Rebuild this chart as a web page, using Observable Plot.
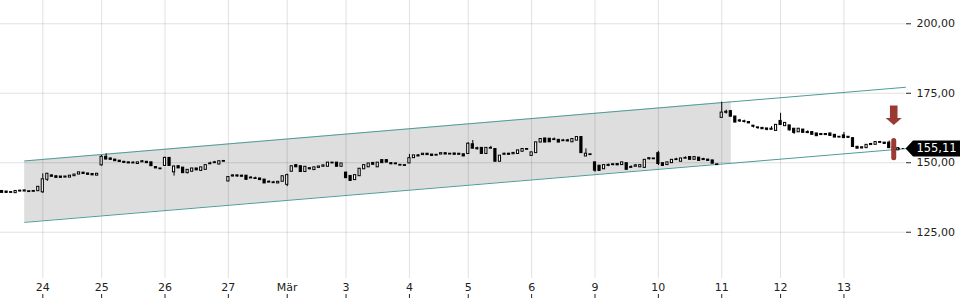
<!DOCTYPE html>
<html><head><meta charset="utf-8">
<script src="https://cdn.jsdelivr.net/npm/d3@7"></script>
<script src="https://cdn.jsdelivr.net/npm/@observablehq/plot@0.6"></script>
<style>
html,body{margin:0;padding:0;background:#fff;}
#chart svg{display:block;overflow:visible;}
</style></head><body><div id="chart"></div>
<script>
// Intraday candles (bar index = position in array)
const opens = [139.7,139.5,139.3,139.2,139.8,139.8,139.6,139.7,139.9,
139.5,144.0,145.3,145.0,144.9,144.8,144.8,145.3,145.9,146.3,146.0,145.8,145.5,
149.2,152.0,151.4,151.0,150.6,150.2,150.0,149.9,149.7,150.3,150.2,150.0,148.3,147.8,
149.0,151.6,146.7,148.6,148.1,146.4,146.9,147.8,147.2,147.6,149.6,150.0,149.5,150.5,
143.4,145.2,145.3,145.2,145.2,144.5,144.3,144.2,143.8,143.0,142.8,142.7,143.3,
142.2,146.9,149.0,148.6,146.8,147.8,147.5,148.3,148.7,148.7,149.9,149.9,148.7,
146.3,145.1,143.9,145.3,147.8,148.5,149.8,148.5,150.8,150.8,149.7,149.6,149.1,149.0,
149.9,151.8,152.5,152.9,153.1,152.8,152.7,153.1,153.3,153.1,153.2,153.0,152.9,
153.3,156.5,155.0,155.2,153.3,155.2,154.8,150.5,153.0,153.1,153.2,153.3,154.1,154.8,
152.6,153.6,157.4,158.6,158.5,158.3,158.1,157.9,157.9,157.5,158.1,159.1,152.4,152.9,
150.0,148.8,147.8,149.0,149.3,149.4,149.3,149.7,148.3,148.7,148.5,148.3,151.4,151.4,
153.3,149.7,149.3,150.0,151.1,150.5,151.6,151.9,151.2,151.7,151.2,151.0,150.7,149.3,
166.3,168.1,168.4,166.5,165.0,164.8,164.5,163.2,162.6,162.4,162.2,162.0,161.6,
164.9,163.3,163.3,162.1,161.1,161.8,160.9,160.9,160.4,160.2,160.1,160.4,159.9,159.2,
159.7,159.2,158.7,155.6,155.3,155.4,156.5,156.6,157.3,157.1,157.1,155.6,154.6];
const closes = [139.3,139.3,139.3,139.7,139.8,139.9,139.6,139.7,141.2,
143.9,145.9,145.1,144.7,144.7,144.9,145.2,145.6,146.4,146.1,145.8,145.6,145.9,
152.0,151.3,151.2,150.7,150.4,150.1,149.9,149.9,150.0,150.4,150.0,148.9,148.1,147.8,
151.6,149.0,148.5,148.1,146.4,147.3,147.8,147.4,148.2,149.0,149.6,150.0,150.4,150.5,
144.7,145.3,145.2,145.1,144.0,144.5,144.3,143.9,142.7,143.0,142.8,143.0,145.0,
145.4,148.6,148.5,146.8,148.4,147.9,148.2,148.5,148.9,149.9,149.9,148.7,149.6,
144.6,143.6,145.4,147.7,149.0,149.6,149.4,149.9,150.0,150.2,149.6,149.6,149.1,149.0,
151.5,152.5,152.4,153.1,152.9,152.6,152.7,153.3,153.1,153.1,153.0,153.1,152.4,
156.7,155.2,155.1,153.3,155.2,155.2,150.5,152.4,153.1,153.0,153.4,154.3,154.8,154.8,
153.6,157.2,158.4,157.4,157.5,158.3,157.4,157.9,157.8,158.4,159.1,153.6,153.1,152.9,
147.3,147.2,149.0,149.1,149.3,149.2,150.0,147.6,148.3,148.9,149.0,150.9,151.5,151.4,
149.7,149.0,150.0,150.9,151.1,151.4,151.6,151.2,151.9,150.8,151.1,150.8,149.8,149.3,
167.9,168.2,166.7,164.6,165.1,164.8,164.3,163.1,162.6,162.2,162.0,162.1,163.5,
163.7,164.2,161.8,160.9,162.1,160.9,160.8,160.2,159.7,160.1,160.2,159.8,159.2,159.2,
159.0,159.1,155.8,155.2,155.4,156.3,156.6,157.3,157.3,156.9,155.4,154.7,155.11];
const highs = [139.8,139.6,139.5,139.8,140.1,140.1,139.7,140.0,141.4,
146.0,146.1,145.6,145.1,145.0,145.0,145.3,145.8,146.5,146.4,146.1,145.9,146.0,
152.6,153.2,151.7,151.1,150.7,150.4,150.1,150.3,150.1,150.8,150.3,150.1,148.4,147.9,
152.0,151.8,148.8,148.9,148.2,147.4,147.9,147.9,148.3,149.1,150.2,150.5,150.5,150.6,
144.8,145.6,145.6,145.5,145.3,145.0,144.8,144.3,143.9,143.5,143.3,143.1,145.1,
145.9,148.7,149.1,148.8,148.5,148.2,148.3,148.6,149.2,150.0,150.0,150.0,149.7,
146.6,145.2,145.5,147.8,149.1,149.7,149.9,150.0,150.9,150.9,150.0,150.0,149.2,149.1,
153.0,152.6,152.9,153.2,153.2,152.9,153.0,153.4,153.4,153.3,153.3,153.2,153.0,
157.2,158.0,155.6,155.3,155.3,155.9,154.9,152.5,153.4,153.4,153.5,154.4,154.9,154.9,
153.7,157.3,158.5,158.7,158.6,158.9,158.2,158.4,158.4,158.5,159.2,159.2,155.0,153.0,
150.1,148.9,149.1,149.5,149.7,149.5,150.1,149.8,148.9,149.4,149.1,151.0,151.8,151.5,
154.1,149.8,150.1,151.0,151.6,151.5,152.1,152.0,152.0,151.8,151.6,151.1,150.8,149.4,
171.8,168.9,168.8,166.6,165.6,165.3,164.6,163.3,162.7,162.5,162.3,163.0,163.6,
167.8,164.3,163.4,162.2,162.2,161.9,161.5,161.0,160.5,160.3,160.5,160.5,160.0,159.3,
160.9,159.3,158.8,155.7,155.8,156.4,157.0,157.4,157.7,157.2,157.8,155.7,155.2];
const lows = [139.2,139.2,139.2,139.1,139.5,139.6,139.5,139.4,139.8,
139.0,143.3,144.9,144.6,144.6,144.7,144.7,145.2,145.8,146.0,145.7,145.5,145.4,
148.8,151.1,150.9,150.6,150.3,149.9,149.8,149.8,149.6,150.1,149.9,148.8,148.0,147.7,
148.8,148.8,145.2,148.0,146.3,146.0,146.8,147.3,147.1,147.5,149.5,149.9,149.4,150.4,
143.3,144.9,144.8,145.0,143.9,144.4,144.2,143.8,142.6,142.9,142.7,142.6,143.2,
141.4,146.8,148.4,146.7,146.7,147.4,147.4,148.2,148.6,148.6,149.8,148.6,148.6,
144.3,143.5,143.8,145.2,147.7,148.4,149.3,148.4,149.9,150.1,149.3,149.3,149.0,148.9,
149.8,151.7,152.3,152.8,152.8,152.5,152.6,153.0,153.0,153.0,152.9,152.9,152.3,
153.1,155.0,154.6,153.2,153.2,155.1,150.4,150.4,152.9,152.9,153.1,153.2,154.0,154.7,
152.5,153.5,157.3,157.3,157.4,158.2,157.3,157.8,157.7,157.4,158.0,153.5,152.3,152.8,
146.6,147.1,147.7,148.6,148.9,149.1,149.2,147.5,148.2,148.6,148.4,148.2,151.0,151.3,
149.0,148.9,149.2,149.9,151.0,150.4,151.5,151.1,151.1,150.7,151.0,150.7,149.7,149.2,
166.2,167.5,166.6,164.5,164.5,164.3,164.2,162.5,162.0,162.1,161.5,161.9,161.5,
163.6,163.2,161.4,160.2,161.0,160.8,160.7,160.1,159.6,160.0,159.8,159.7,159.1,159.1,
158.9,159.0,155.7,155.1,155.0,155.3,156.4,156.5,156.9,156.8,155.3,154.6,154.5];

// x axis: first bar of each trading day
const dayStarts = [9,22,36,50,63,76,90,103,117,131,145,159,172,186];
const dayLabels = ["24","25","26","27","Mär","3","4","5","6","9","10","11","12","13"];
const yTicks = [125,150,175,200];

// trend channel (anchors in bar index / price)
const channelIdx = [5, 199.6];
const channelUpper = [150.65, 177.15];
const channelLower = [128.55, 155.05];
const channelFillEnd = 161.1;

// signal marker and last price
const signalIdx = [197];
const signalLow = [151.6];
const signalHigh = [157.8];
const lastPrice = 155.11;

const bars = opens.map((o, i) => ({i, o, c: closes[i], h: highs[i], l: lows[i]}));
const chan = (arr, x) => arr[0] + (arr[1] - arr[0]) * (x - channelIdx[0]) / (channelIdx[1] - channelIdx[0]);
const fillData = [channelIdx[0], channelFillEnd].map(x => ({x, lo: chan(channelLower, x), hi: chan(channelUpper, x)}));
const lineData = channelIdx.map((x, k) => ({x, up: channelUpper[k], lo: channelLower[k]}));
const signals = signalIdx.map((x, k) => ({x, lo: signalLow[k], hi: signalHigh[k]}));
const xEnd = channelIdx[1];
const fmt = d => d.toFixed(2).replace(".", ",");

const arrowSymbol = {draw(ctx) {
  ctx.moveTo(0, 0); ctx.lineTo(-8, -7); ctx.lineTo(-3.8, -7); ctx.lineTo(-3.8, -19.5);
  ctx.lineTo(3.8, -19.5); ctx.lineTo(3.8, -7); ctx.lineTo(8, -7); ctx.closePath();
}};
const tagSymbol = {draw(ctx) {
  ctx.moveTo(0, 0); ctx.lineTo(7.5, -8); ctx.lineTo(60, -8); ctx.lineTo(60, 8); ctx.lineTo(7.5, 8); ctx.closePath();
}};

const chart = Plot.plot({
  width: 960, height: 300,
  marginLeft: 0, marginRight: 55, marginTop: 0, marginBottom: 22,
  style: {fontFamily: "'DejaVu Sans', sans-serif", fontSize: "11px", color: "#222", background: "#fff"},
  x: {type: "linear", domain: [-0.345, xEnd]},
  y: {domain: [108.35, 208.38]},
  marks: [
    Plot.areaY(fillData, {x: "x", y1: "lo", y2: "hi", fill: "#dedede"}),
    Plot.gridX(dayStarts, {stroke: "#000", strokeOpacity: 0.12}),
    Plot.gridY(yTicks, {stroke: "#000", strokeOpacity: 0.12}),
    Plot.line(lineData, {x: "x", y: "up", stroke: "#4f9b9b", strokeWidth: 1}),
    Plot.line(lineData, {x: "x", y: "lo", stroke: "#4f9b9b", strokeWidth: 1}),
    Plot.ruleX(bars, {x: "i", y1: "l", y2: "h", stroke: "#000", strokeWidth: 1}),
    Plot.rect(bars, {x1: d => d.i - 0.24, x2: d => d.i + 0.24, y1: "o", y2: "c",
      fill: d => d.c >= d.o ? "#fff" : "#000", stroke: "#000", strokeWidth: 1,
      insetTop: -0.4, insetBottom: -0.4}),
    Plot.ruleY([lastPrice], {x1: bars.length - 1, x2: xEnd, stroke: "#000", strokeDasharray: "2,2"}),
    Plot.ruleX(signals, {x: "x", y1: "lo", y2: "hi", stroke: "#9a3a33", strokeWidth: 5, strokeLinecap: "round"}),
    Plot.dot(signals, {x: "x", y: "hi", dy: -16, symbol: arrowSymbol, fill: "#9a3a33", stroke: null}),
    Plot.axisY(yTicks, {anchor: "right", tickSize: 5, tickPadding: 6, tickFormat: fmt, label: null, fill: "#222"}),
    Plot.axisX(dayStarts, {tickSize: 0, tickPadding: 5, tickFormat: d => dayLabels[dayStarts.indexOf(d)], label: null, fill: "#222"}),
    Plot.axisX(dayStarts, {tickSize: 4, tickFormat: () => "", dy: 16, label: null}),
    Plot.dot([lastPrice], {x: xEnd, y: d => d, symbol: tagSymbol, fill: "#000", stroke: null}),
    Plot.text([lastPrice], {x: xEnd, y: d => d, text: fmt, dx: 31, fill: "#fff", fontSize: 11.5, textAnchor: "middle"})
  ]
});
document.getElementById("chart").append(chart);
</script>
</body></html>
